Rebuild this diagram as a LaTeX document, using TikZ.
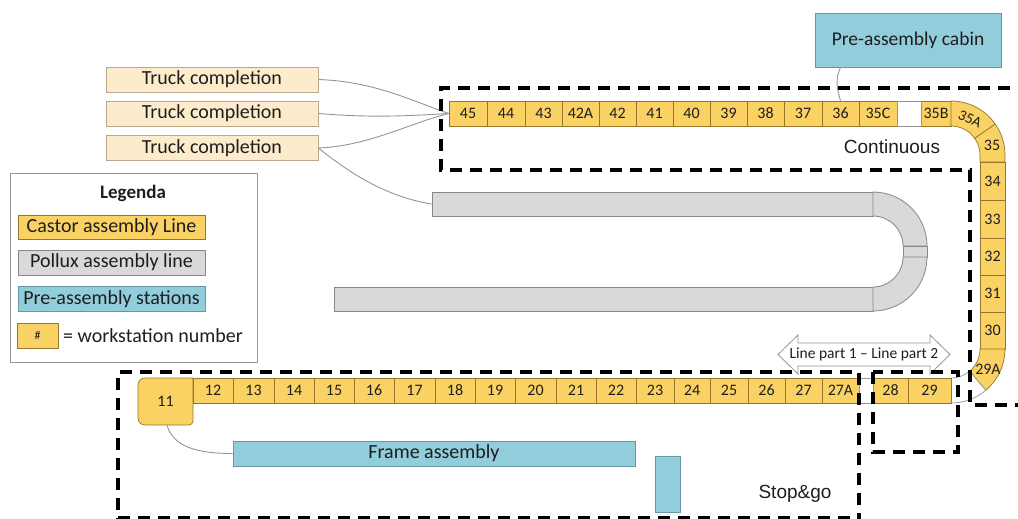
\documentclass[tikz,border=0pt]{standalone}
\usepackage{fontspec}
\setmainfont{Carlito}
\newfontfamily\zonefont{Liberation Sans}
\usetikzlibrary{calc}

\definecolor{castor}{RGB}{250,209,99}
\definecolor{castoredge}{RGB}{150,118,45}
\definecolor{cream}{RGB}{253,236,203}
\definecolor{creamedge}{RGB}{185,168,140}
\definecolor{pollux}{RGB}{217,217,217}
\definecolor{polluxedge}{RGB}{135,135,135}
\definecolor{preblue}{RGB}{146,205,220}
\definecolor{preedge}{RGB}{105,150,165}
\definecolor{wirecol}{RGB}{150,150,150}
\definecolor{ink}{RGB}{30,30,30}

\tikzset{
  stnode/.style={draw=castoredge, fill=castor, line width=0.7pt, minimum height=25pt,
    inner sep=0pt, text=ink, font=\fontsize{16}{18}\selectfont},
  stshape/.style={draw=castoredge, fill=castor, line width=0.7pt},
  sttext/.style={inner sep=0pt, text=ink, font=\fontsize{16}{18}\selectfont},
  gapnode/.style={draw=wirecol, fill=white, line width=0.7pt, minimum height=25pt, inner sep=0pt},
  gapshape/.style={draw=wirecol, fill=white, line width=0.7pt},
  truck/.style={draw=creamedge, fill=cream, line width=0.8pt, minimum width=212pt,
    minimum height=25pt, inner sep=0pt, text=ink, font=\fontsize{20}{24}\selectfont},
  pshape/.style={draw=polluxedge, fill=pollux, line width=0.8pt},
  pnode/.style={pshape, inner sep=0pt},
  prenode/.style={draw=preedge, fill=preblue, line width=0.8pt, inner sep=0pt, text=ink,
    font=\fontsize{20}{24}\selectfont},
  link/.style={draw=wirecol, line width=0.9pt},
  zone/.style={draw=black, line width=3.2pt, dash pattern=on 12pt off 8pt},
  zonelabel/.style={inner sep=0pt, text=ink, font=\zonefont\fontsize{19}{22}\selectfont},
  legtext/.style={inner sep=0pt, text=ink, font=\fontsize{20}{24}\selectfont},
}

\begin{document}
\begin{tikzpicture}[x=1pt,y=-1pt]
\useasboundingbox (0,0) rectangle (1018,519);
\fill[white] (0,0) rectangle (1018,519);

% ---------- Pollux line: two straight runs joined by a U-turn ----------
\node[pnode, minimum width=441pt, minimum height=24pt] (pup) at (652.5,204) {};
\node[pnode, minimum width=539pt, minimum height=24pt] (plow) at (603.5,299) {};
\draw[pshape] (873,192) arc[start angle=270, end angle=360, radius=54] -- (903,246)
  arc[start angle=0, end angle=-90, radius=30] -- cycle;
\draw[pshape] (903,246) rectangle (927,257);
\draw[pshape] (927,257) arc[start angle=0, end angle=90, radius=54] -- (873,287)
  arc[start angle=90, end angle=0, radius=30] -- cycle;

% ---------- Castor line, upper run (45 ... 35B) ----------
\foreach \lab/\a/\b in {45/449/487,44/487/525,43/525/562,42A/562/599,42/599/636,
    41/636/673,40/673/710,39/710/747,38/747/784,37/784/822,36/822/859,35C/859/897,35B/921/951}
  \node[stnode, minimum width={(\b-\a)*1pt}] (s\lab) at ({(\a+\b)/2},113.5) {\lab};
\node[gapnode, minimum width=24pt] (gapup) at (909,113.5) {};

% upper bend: 35A and 35
\draw[stshape] (951,101) arc[start angle=270, end angle=325, radius=54] -- ++(325:-25)
  arc[start angle=325, end angle=270, radius=29] -- cycle;
\draw[stshape] (980,162) -- (980,155) arc[start angle=0, end angle=-35, radius=29] -- ++(-35:25)
  arc[start angle=-35, end angle=0, radius=54] -- (1005,162) -- cycle;
\node[sttext, rotate=-25, font=\fontsize{15}{17}\selectfont] (s35A) at (970,119) {35A};
\node[sttext] (s35) at (992,145) {35};

% vertical run (34 ... 30)
\foreach \lab/\a/\b in {34/162/200,33/200/238,32/238/275,31/275/312,30/312/349}
  \node[stnode, minimum width=25pt, minimum height={(\b-\a)*1pt}] (s\lab) at (992.5,{(\a+\b)/2}) {\lab};

% lower bend: 29A and the free part of the curve
\draw[stshape] (980,349) -- (1005,349) arc[start angle=0, end angle=50, radius=54] -- ++(50:-25)
  arc[start angle=50, end angle=0, radius=29] -- cycle;
\draw[gapshape] (951,378) -- (951,403) arc[start angle=90, end angle=50, radius=54] -- ++(50:-25)
  arc[start angle=50, end angle=90, radius=29] -- cycle;
\node[sttext] (s29A) at (988,369) {29A};

% ---------- Castor line, lower run (11 ... 29) ----------
\draw[stshape] (193,378) -- (145,378) arc[start angle=270, end angle=180, radius=7] -- (138,418)
  arc[start angle=180, end angle=90, radius=7] -- (189,425)
  arc[start angle=90, end angle=0, radius=4] -- cycle;
\node[sttext] (s11) at (165.5,401.5) {11};
\coordinate (s11foot) at (167,425);
\foreach \lab/\a/\b in {12/193/233,13/233/274,14/274/314,15/314/354,16/354/394,17/394/435,
    18/435/475,19/475/515,20/515/556,21/556/596,22/596/636,23/636/674,24/674/710,25/710/748,
    26/748/785,27/785/822,27A/822/859,28/873/908,29/908/951}
  \node[stnode, minimum width={(\b-\a)*1pt}] (s\lab) at ({(\a+\b)/2},390.5) {\lab};
\node[gapnode, minimum width=14pt] (gaplow) at (866,390.5) {};

% ---------- truck completion and pre-assembly stations ----------
\node[truck] (tc1) at (212,79.5) {Truck completion};
\node[truck] (tc2) at (212,113.5) {Truck completion};
\node[truck] (tc3) at (212,148) {Truck completion};

\node[prenode, minimum width=186pt, minimum height=54pt, font=\fontsize{19.5}{24}\selectfont]
  (cabin) at (908,40) {Pre-assembly cabin};
\node[prenode, minimum width=402pt, minimum height=25pt] (frame) at (434,453.5) {Frame assembly};
\node[prenode, minimum width=25pt, minimum height=56pt] (preblock) at (667.5,484) {};

% ---------- connectors ----------
\draw[link] (tc1.east) .. controls +(55,2) and +(-40,-14) .. (s45.west);
\draw[link] (tc2.east) .. controls +(50,4) and +(-50,3) .. (s45.west);
\draw[link] (tc3.east) .. controls +(50,-2) and +(-40,10) .. (s45.west);
\draw[link] (tc3.east) .. controls +(25,20) and +(-50,-8) .. (pup.west);
\draw[link] (cabin.south -| s36) .. controls +(-6,13) and +(-3,-10) .. (s36.north);
\draw[link] (s11foot) .. controls +(6,22) and +(-35,0) .. (frame.west);

% ---------- line part divider ----------
\draw[draw=wirecol, fill=white, line width=0.8pt] (778,354.5) -- (798,335) -- (798,343) -- (930,343)
  -- (930,335) -- (950,354.5) -- (930,374) -- (930,366) -- (798,366) -- (798,374) -- cycle;
\node[inner sep=0pt, text=ink, font=\fontsize{15.5}{18}\selectfont] (parts) at (864,354.5)
  {Line part 1 – Line part 2};

% ---------- zones ----------
\draw[zone] (1030,88) -- (441,88) -- (441,170) -- (970,170) -- (970,405) -- (1030,405);
\draw[zone] (118,530) -- (118,372) -- (859,372) -- (859,530);
\draw[zone] (118,518) -- (859,518);
\draw[zone] (873,372) rectangle (958,452);
\node[zonelabel] (zcont) at (892,147) {Continuous};
\node[zonelabel] (zstop) at (795,494) {Stop\&go};

% ---------- legend ----------
\node[draw=wirecol, fill=white, line width=1pt, minimum width=247pt, minimum height=189pt,
  inner sep=0pt] (legend) at (133.5,267.5) {};
\node[inner sep=0pt, text=ink, font=\bfseries\fontsize{19}{22}\selectfont] (legtitle) at (133,193) {Legenda};
\node[stnode, minimum width=187pt, minimum height=24pt, font=\fontsize{20}{24}\selectfont]
  (legcastor) at (111.5,227) {Castor assembly Line};
\node[pnode, minimum width=187pt, minimum height=25pt, text=ink, font=\fontsize{20}{24}\selectfont]
  (legpollux) at (111.5,262.5) {Pollux assembly line};
\node[prenode, minimum width=187pt, minimum height=25pt] (legpre) at (111.5,299) {Pre-assembly stations};
\node[stnode, minimum width=41pt, minimum height=25pt, font=\fontsize{12}{14}\selectfont]
  (leghash) at (37.5,335.5) {\#};
\node[legtext, anchor=west] (legnum) at (63,335.5) {= workstation number};
\end{tikzpicture}
\end{document}
